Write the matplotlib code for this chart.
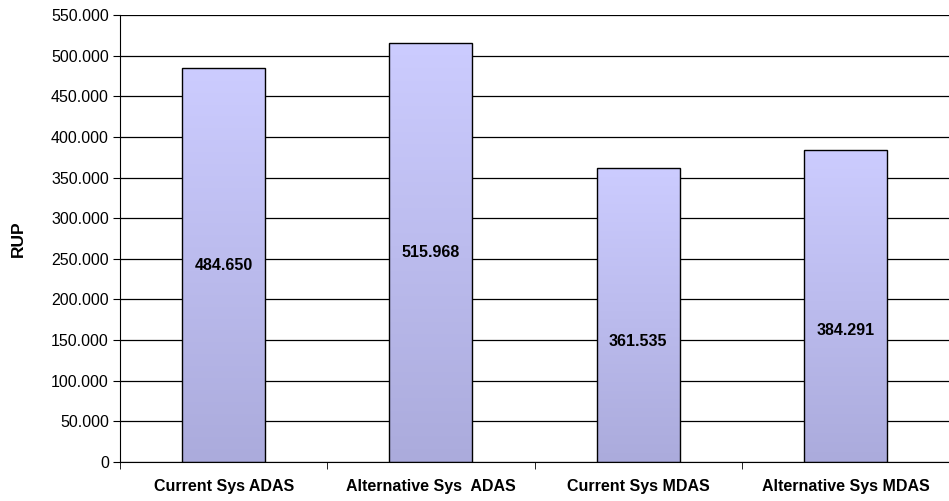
import matplotlib.pyplot as plt
import numpy as np
from matplotlib.colors import LinearSegmentedColormap
from matplotlib.ticker import FuncFormatter

plt.rcParams['font.family'] = ['Liberation Sans', 'DejaVu Sans']

categories = ['Current Sys ADAS', 'Alternative Sys  ADAS', 'Current Sys MDAS', 'Alternative Sys MDAS']
rup = [484650, 515968, 361535, 384291]
label_frac = [0.5, 0.5, 0.41, 0.42]

fig = plt.figure(figsize=(9.49, 5.01), dpi=100)
ax = fig.add_axes([120 / 949, 39 / 501, 1 - 120 / 949, 447 / 501])

x = np.arange(len(categories))
bars = ax.bar(x, rup, width=0.4, color='none', edgecolor='black', linewidth=1.0, zorder=3)

# vertical gradient inside each bar
cmap = LinearSegmentedColormap.from_list('bar', ['#ababdc', '#ccccff'])
grad = np.linspace(0, 1, 256).reshape(-1, 1)
for b in bars:
    x0, w, h = b.get_x(), b.get_width(), b.get_height()
    im = ax.imshow(grad, cmap=cmap, origin='lower', aspect='auto',
                   extent=[x0, x0 + w, 0, h], zorder=2)
    im.set_clip_path(b)

for xi, v, f in zip(x, rup, label_frac):
    ax.text(xi, v * f, f'{v:,}'.replace(',', '.'), ha='center', va='center',
            fontsize=11.5, fontweight='bold', zorder=4)

ax.set_xlim(-0.5, len(categories) - 0.5)
ax.set_ylim(0, 550000)
ax.set_yticks(np.arange(0, 550001, 50000))
ax.yaxis.set_major_formatter(FuncFormatter(lambda v, p: f'{int(v):,}'.replace(',', '.')))
ax.yaxis.grid(True, color='black', linewidth=0.9, zorder=0)
ax.set_axisbelow(True)

ax.set_xticks(x)
ax.set_xticklabels(categories, fontsize=11.5, fontweight='bold')
ax.set_xticks(np.arange(-0.5, len(categories)), minor=True)
ax.tick_params(axis='x', which='major', length=0, pad=12)
ax.tick_params(axis='x', which='minor', length=5, color='black')
ax.tick_params(axis='y', length=5, labelsize=11.5, pad=3)

ax.spines['top'].set_visible(False)
ax.spines['right'].set_visible(False)
ax.spines['left'].set_color('black')
ax.spines['bottom'].set_color('black')

ax.set_ylabel('RUP', fontsize=12.5, fontweight='bold', labelpad=18)

fig.savefig('out.png', dpi=100)
